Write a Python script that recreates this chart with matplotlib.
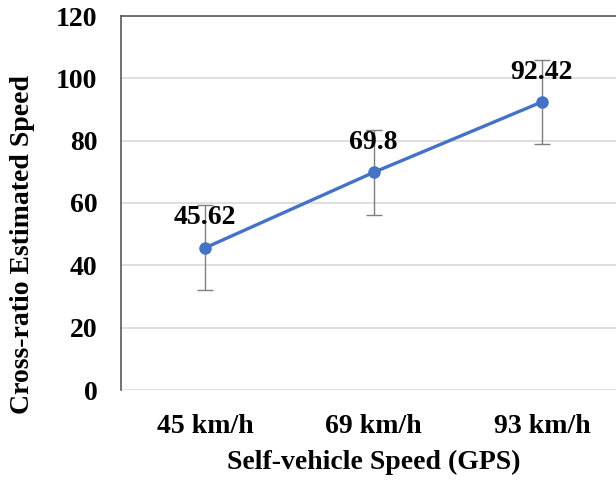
import matplotlib
matplotlib.use("Agg")
import matplotlib.pyplot as plt

categories = ["45 km/h", "69 km/h", "93 km/h"]
estimated = [45.62, 69.8, 92.42]
errors = [13.6, 13.5, 13.4]
labels = ["45.62", "69.8", "92.42"]

plt.rcParams["font.family"] = ["Liberation Serif", "DejaVu Serif"]
plt.rcParams["font.weight"] = "bold"

fig = plt.figure(figsize=(6.16, 4.8), dpi=100)
# plot area runs past the right edge of the image, as in the reference crop
ax = fig.add_axes([121 / 616, 90 / 480, 505 / 616, 374 / 480])

x = list(range(len(categories)))
ax.errorbar(x, estimated, yerr=errors, fmt="none", ecolor="#7f7f7f",
            elinewidth=1.0, capsize=6, capthick=1.0, zorder=2)
ax.plot(x, estimated, color="#4472C4", lw=2.4, marker="o", ms=8, zorder=3)

for xi, v, t in zip(x, estimated, labels):
    ax.annotate(t, (xi, v), xytext=(0, 21.5), textcoords="offset points",
                ha="center", va="center", fontsize=20, fontweight="bold",
                zorder=4)

ax.set_xlim(-0.5, 2.5)
ax.set_ylim(0, 120)
ax.set_yticks(range(0, 121, 20))
ax.set_xticks(x)
ax.set_xticklabels(categories)
ax.tick_params(axis="both", length=0, labelsize=20)
ax.tick_params(axis="x", pad=17)
ax.tick_params(axis="y", pad=17)
ax.yaxis.grid(True, color="#d9d9d9", lw=1.2)
ax.set_axisbelow(True)

for s in ["right", "bottom"]:
    ax.spines[s].set_visible(False)
for s in ["left", "top"]:
    ax.spines[s].set_color("#595959")
    ax.spines[s].set_linewidth(1.2)

ax.set_xlabel("Self-vehicle Speed (GPS)", fontsize=20, fontweight="bold",
              labelpad=8)
ax.set_ylabel("Cross-ratio Estimated Speed", fontsize=20, fontweight="bold")
ax.yaxis.set_label_coords(-86 / 505, 145 / 374)

fig.savefig("out.png", dpi=100)
